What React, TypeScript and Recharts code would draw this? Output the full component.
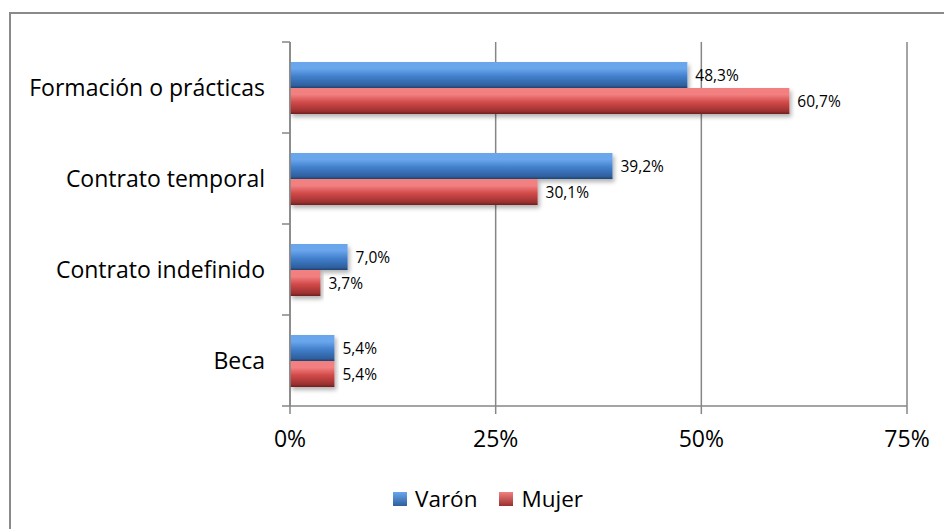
import { BarChart, Bar, XAxis, YAxis, CartesianGrid, LabelList } from "recharts"

const categories = ["Formación o prácticas", "Contrato temporal", "Contrato indefinido", "Beca"]
const varon = [48.3, 39.2, 7.0, 5.4]
const mujer = [60.7, 30.1, 3.7, 5.4]
const xTicks = [0, 25, 50, 75]

const series = [
  { key: "varon", name: "Varón", values: varon, grad: "gradBlue", light: "#6aa6ec", mid: "#4280cc", dark: "#2e5f9e", edge: "#1f426e" },
  { key: "mujer", name: "Mujer", values: mujer, grad: "gradRed", light: "#f28080", mid: "#d24a4a", dark: "#9a2f2f", edge: "#6e2020" },
]

const data = categories.map((c, i) => ({ name: c, varon: varon[i], mujer: mujer[i] }))

const FONT = "'Open Sans', sans-serif"
const W = 944
const H = 529
const M = { top: 42, right: 37, bottom: 63, left: 0 }
const X_AXIS_H = 60
const Y_AXIS_W = 290
const band = (H - M.top - M.bottom - X_AXIS_H) / categories.length
const TICK = 8
const TICK_MARGIN = 17

const fmt = (v: any) => Number(v).toFixed(1).replace(".", ",") + "%"

function CatTick(props: any) {
  const { x, y, payload, index } = props
  const lx = x + TICK_MARGIN
  return (
    <g>
      <line x1={lx} x2={lx + TICK} y1={y - band / 2} y2={y - band / 2} stroke="#868686" strokeWidth={1.5} />
      {index === categories.length - 1 && (
        <line x1={lx} x2={lx + TICK} y1={y + band / 2} y2={y + band / 2} stroke="#868686" strokeWidth={1.5} />
      )}
      <text x={x} y={y} dy="0.35em" textAnchor="end" fontSize={23} fontFamily={FONT} fill="#000">
        {payload.value}
      </text>
    </g>
  )
}

export default function App() {
  return (
    <div style={{ position: "absolute", left: 0, top: 0, width: W, height: H, background: "#fff", overflow: "hidden" }}>
      <div
        style={{
          position: "absolute", left: 9, top: 12, width: W, height: H,
          borderTop: "2px solid #8a8a8a", borderLeft: "2px solid #8a8a8a",
        }}
      />
      <div style={{ position: "absolute", left: 0, top: 0 }}>
        <BarChart
          width={W}
          height={H}
          data={data}
          layout="vertical"
          margin={M}
          barSize={26}
          barGap={0}
        >
          <defs>
            {series.map((s) => (
              <linearGradient key={s.grad} id={s.grad} x1="0" y1="0" x2="0" y2="1">
                <stop offset="0%" stopColor={s.light} />
                <stop offset="25%" stopColor={s.light} />
                <stop offset="55%" stopColor={s.mid} />
                <stop offset="90%" stopColor={s.dark} />
                <stop offset="100%" stopColor={s.edge} />
              </linearGradient>
            ))}
            <filter id="shadow" x="-5%" y="-20%" width="115%" height="160%">
              <feDropShadow dx="2" dy="3" stdDeviation="2" floodColor="#000" floodOpacity="0.3" />
            </filter>
          </defs>
          <CartesianGrid horizontal={false} stroke="#868686" strokeWidth={1.5} />
          <XAxis
            type="number"
            domain={[0, 75]}
            ticks={xTicks}
            tickFormatter={(v) => v + "%"}
            height={X_AXIS_H}
            tickSize={TICK}
            tickMargin={17}
            axisLine={{ stroke: "#868686", strokeWidth: 1.5 }}
            tickLine={{ stroke: "#868686", strokeWidth: 1.5 }}
            tick={{ fill: "#000", fontSize: 23, fontFamily: FONT }}
            interval={0}
          />
          <YAxis
            type="category"
            dataKey="name"
            width={Y_AXIS_W}
            tickSize={TICK}
            tickMargin={TICK_MARGIN}
            tickLine={false}
            axisLine={{ stroke: "#868686", strokeWidth: 1.5 }}
            tick={<CatTick />}
            interval={0}
          />
          {series.map((s) => (
            <Bar
              key={s.key}
              dataKey={s.key}
              name={s.name}
              fill={`url(#${s.grad})`}
              filter="url(#shadow)"
              isAnimationActive={false}
            >
              <LabelList
                dataKey={s.key}
                position="right"
                offset={8}
                formatter={fmt}
                style={{ fill: "#000", fontSize: 15.5, fontFamily: FONT }}
              />
            </Bar>
          ))}
        </BarChart>
      </div>
      <div
        style={{
          position: "absolute", left: 393, top: 484, display: "flex", alignItems: "center",
          fontFamily: FONT, fontSize: 22.5, color: "#000", lineHeight: "30px",
        }}
      >
        {series.map((s, i) => (
          <div key={s.key} style={{ display: "flex", alignItems: "center", marginRight: i === 0 ? 22 : 0 }}>
            <span
              style={{
                display: "inline-block", width: 14, height: 14, marginRight: 8,
                background: `linear-gradient(${s.light}, ${s.dark})`,
              }}
            />
            <span>{s.name}</span>
          </div>
        ))}
      </div>
    </div>
  )
}
